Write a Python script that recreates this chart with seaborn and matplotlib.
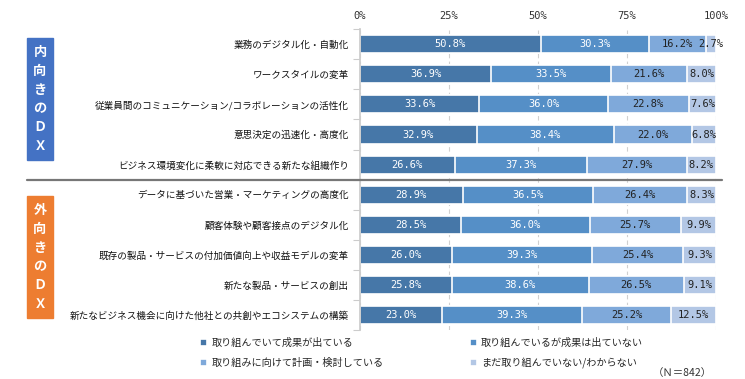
import numpy as np
import pandas as pd
import matplotlib.pyplot as plt
import seaborn as sns
from matplotlib.patches import Rectangle
from matplotlib.lines import Line2D
from matplotlib.transforms import blended_transform_factory

# data
categories = [
    '業務のデジタル化・自動化',
    'ワークスタイルの変革',
    '従業員間のコミュニケーション/コラボレーションの活性化',
    '意思決定の迅速化・高度化',
    'ビジネス環境変化に柔軟に対応できる新たな組織作り',
    'データに基づいた営業・マーケティングの高度化',
    '顧客体験や顧客接点のデジタル化',
    '既存の製品・サービスの付加価値向上や収益モデルの変革',
    '新たな製品・サービスの創出',
    '新たなビジネス機会に向けた他社との共創やエコシステムの構築',
]
result_yes = [50.8, 36.9, 33.6, 32.9, 26.6, 28.9, 28.5, 26.0, 25.8, 23.0]
result_no = [30.3, 33.5, 36.0, 38.4, 37.3, 36.5, 36.0, 39.3, 38.6, 39.3]
planning = [16.2, 21.6, 22.8, 22.0, 27.9, 26.4, 25.7, 25.4, 26.5, 25.2]
not_yet = [2.7, 8.0, 7.6, 6.8, 8.2, 8.3, 9.9, 9.3, 9.1, 12.5]
series_names = ['取り組んでいて成果が出ている', '取り組んでいるが成果は出ていない',
                '取り組みに向けて計画・検討している', 'まだ取り組んでいない/わからない']
colors = ['#4677A8', '#558FC7', '#7FA9DA', '#B3C7E5']
text_colors = ['white', 'white', '#222222', '#222222']

sns.set_theme(style='white')
plt.rcParams['font.family'] = ['Noto Sans CJK JP', 'DejaVu Sans']

df = pd.DataFrame({'cat': categories, 's1': result_yes, 's2': result_no,
                   's3': planning, 's4': not_yet})
segs = df[['s1', 's2', 's3', 's4']].values
cums = np.cumsum(segs, axis=1)

fig = plt.figure(figsize=(7.45, 3.79), dpi=100)
ax = fig.add_axes([0.483, 0.129, 0.478, 0.794])

# stacked bars: draw cumulative totals from the back
for i in range(3, -1, -1):
    sns.barplot(x=cums[:, i], y=df['cat'], color=colors[i], orient='h',
                width=0.6, edgecolor='white', linewidth=1.2, ax=ax,
                label=series_names[i], saturation=1)
handles, labels = ax.get_legend_handles_labels()
if ax.get_legend() is not None:
    ax.get_legend().remove()

# value labels
for r in range(len(categories)):
    for i in range(4):
        center = cums[r, i] - segs[r, i] / 2
        ax.text(center, r, f'{segs[r, i]:.1f}%', ha='center', va='center',
                fontsize=7.5, color=text_colors[i], family='DejaVu Sans Mono')

ax.set_xlim(0, 100)
ax.set_ylim(9.5, -0.5)
ax.set_xlabel('')
ax.set_ylabel('')
ax.xaxis.tick_top()
ax.set_xticks([0, 25, 50, 75, 100])
ax.set_xticklabels(['0%', '25%', '50%', '75%', '100%'], family='DejaVu Sans Mono')
ax.tick_params(axis='x', length=0, labelsize=7.5, pad=6, colors='#333333')
ax.tick_params(axis='y', length=0, labelsize=6.9, pad=8, colors='#111111')
ax.set_yticks(np.arange(-0.5, 10, 1), minor=True)
ax.tick_params(axis='y', which='minor', length=5, color='#cccccc', width=0.8, left=True)
ax.xaxis.grid(True, linestyle=(0, (4, 3)), color='#d0d0d0', linewidth=0.8)
ax.set_axisbelow(True)
for s in ['top', 'right', 'bottom']:
    ax.spines[s].set_visible(False)
ax.spines['left'].set_color('#cccccc')

# separator line between groups
tr = blended_transform_factory(fig.transFigure, ax.transData)
fig.add_artist(Line2D([27 / 745, 722 / 745], [4.5, 4.5], transform=tr,
                      color='#777777', linewidth=1.6))

# group boxes
for (y0, y1, col, txt) in [(38, 160, '#4472C4', '内\n向\nき\nの\nＤ\nＸ'),
                           (196, 318, '#ED7D31', '外\n向\nき\nの\nＤ\nＸ')]:
    fig.add_artist(Rectangle((27 / 745, 1 - y1 / 379), 26 / 745, (y1 - y0) / 379,
                             transform=fig.transFigure, color=col))
    fig.text(40 / 745, 1 - (y0 + y1) / 2 / 379, txt, ha='center', va='center',
             color='white', fontsize=9.5, fontweight='bold', linespacing=1.45)

# legend (two columns, filled column-wise)
order = [series_names[k] for k in [0, 2, 1, 3]]
leg = fig.legend([handles[labels.index(n)] for n in order], order,
                 loc='upper left', bbox_to_anchor=(195 / 745, 1 - 333 / 379),
                 ncol=2, frameon=False, fontsize=7.3, handlelength=0.7,
                 handleheight=0.7, columnspacing=8.5, labelspacing=0.95,
                 handletextpad=0.4, borderpad=0)
fig.text(712 / 745, 1 - 373 / 379, '（Ｎ＝842）', ha='right', va='center',
         fontsize=7.5, color='#333333')

plt.savefig('out.png', dpi=100)
